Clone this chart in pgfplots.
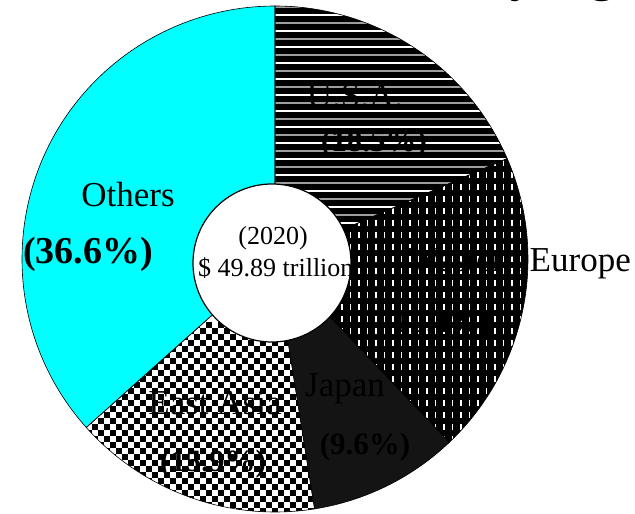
\documentclass[border=0pt]{standalone}
\usepackage{fontspec}
\setmainfont{Liberation Serif}
\usepackage{pgfplots}
\pgfplotsset{compat=1.18}
\usepackage{pgfplotstable}

\definecolor{aqua}{RGB}{0,255,255}
\definecolor{japan}{RGB}{20,20,20}

\pgfplotstableread{
region   share
USA      18.5
WEurope  19.4
Japan    9.6
EastAsia 15.9
Others   36.6
}\gdptable

% slice edges, clockwise from the top
\pgfplotstablegetelem{0}{share}\of\gdptable \pgfmathsetmacro\aA{90-3.6*\pgfplotsretval}
\pgfplotstablegetelem{1}{share}\of\gdptable \pgfmathsetmacro\aB{\aA-3.6*\pgfplotsretval}
\pgfplotstablegetelem{2}{share}\of\gdptable \pgfmathsetmacro\aC{\aB-3.6*\pgfplotsretval}
\pgfplotstablegetelem{3}{share}\of\gdptable \pgfmathsetmacro\aD{\aC-3.6*\pgfplotsretval}
\pgfplotstablegetelem{4}{share}\of\gdptable \pgfmathsetmacro\aE{\aD-3.6*\pgfplotsretval}

% sector path from angle #1 to angle #2
\newcommand\sector[2]{(axis cs:275,255) -- ++(#1:253pt)
    arc[start angle=#1, end angle=#2, radius=253pt] -- cycle}

\newcommand\lbl{\fontsize{35}{40}\selectfont}
\newcommand\pct{\fontsize{31}{36}\selectfont\bfseries}

\begin{document}
\begin{tikzpicture}
\begin{axis}[
  hide axis,
  x=1pt, y=1pt,
  xmin=0, xmax=635, ymin=0, ymax=514,
  clip=false,
]
% U.S.A.: black with white and grey rules
\begin{scope}
  \clip \sector{90}{\aA};
  \fill[black] (axis cs:270,140) rectangle (axis cs:535,514);
  \pgfplotsinvokeforeach{147,163,...,515}{
    \draw[white, line width=1.5pt] (axis cs:270,#1) -- (axis cs:535,#1);}
  \pgfplotsinvokeforeach{155,171,...,515}{
    \draw[black!38, line width=2.2pt] (axis cs:270,#1) -- (axis cs:535,#1);}
\end{scope}
% Western Europe: black with short white dashes
\begin{scope}
  \clip \sector{\aA}{\aB};
  \fill[black] (axis cs:270,60) rectangle (axis cs:535,420);
  \pgfplotsinvokeforeach{342,350.5,...,532}{
    \draw[white, line width=1.6pt, dash pattern=on 6pt off 6pt] (axis cs:#1,60) -- (axis cs:#1,420);}
\end{scope}
% Japan
\fill[japan] \sector{\aB}{\aC};
% East Asia: checks
\begin{scope}
  \clip \sector{\aC}{\aD};
  \fill[white] (axis cs:80,0) rectangle (axis cs:330,180);
  \pgfplotsinvokeforeach{3,15,...,183}{
    \draw[black, line width=6pt, dash pattern=on 6pt off 6pt] (axis cs:80,#1) -- (axis cs:330,#1);}
  \pgfplotsinvokeforeach{9,21,...,183}{
    \draw[black, line width=6pt, dash pattern=on 6pt off 6pt] (axis cs:86,#1) -- (axis cs:330,#1);}
\end{scope}
% Others
\fill[aqua] \sector{\aD}{\aE};

\draw[black, line width=0.6pt] \sector{90}{\aA};
\draw[black, line width=0.6pt] \sector{\aA}{\aB};
\draw[black, line width=0.6pt] \sector{\aB}{\aC};
\draw[black, line width=0.6pt] \sector{\aC}{\aD};
\draw[black, line width=0.6pt] \sector{\aD}{\aE};

\filldraw[fill=white, draw=black, line width=1.2pt] (axis cs:272,251) circle[radius=79pt];
\begin{scope}
  \clip (axis cs:272,251) circle[radius=78.4pt];
  \node[anchor=base, font=\fontsize{26}{30}\selectfont] at (axis cs:273,269) {(2020)};
  \node[anchor=base west, inner sep=0pt, font=\fontsize{26}{30}\selectfont] at (axis cs:198,237) {\$ 49.89 trillion};
\end{scope}

\node[anchor=base, font=\lbl] at (axis cs:355,406) {U.S.A.};
\node[anchor=base, font=\pct] at (axis cs:374,362) {(18.5\%)};
\node[anchor=base west, inner sep=0pt, font=\lbl] at (axis cs:407,242) {Western Europe};
\node[anchor=base, font=\pct] at (axis cs:438,181) {(19.4\%)};
\node[anchor=base, font=\lbl] at (axis cs:345,117) {Japan};
\node[anchor=base, font=\pct] at (axis cs:365,59) {(9.6\%)};
\node[anchor=base, font=\lbl] at (axis cs:215,99) {East Asia};
\node[anchor=base, font=\pct] at (axis cs:213,42) {(15.9\%)};
\node[anchor=base, font=\lbl] at (axis cs:128,307) {Others};
\node[anchor=base, font=\fontsize{38}{42}\selectfont\bfseries] at (axis cs:88,250) {(36.6\%)};

% title, cut off by the top edge
\node[anchor=base east, inner sep=0pt, font=\fontsize{52}{56}\selectfont] at (axis cs:484,523.5) {World GDP\ };
\node[anchor=base west, inner sep=0pt, font=\fontsize{52}{56}\selectfont] at (axis cs:484,523.5) {by region};
\end{axis}
\pgfresetboundingbox
\path[use as bounding box] (0,0) rectangle (635pt,514pt);
\end{tikzpicture}
\end{document}
